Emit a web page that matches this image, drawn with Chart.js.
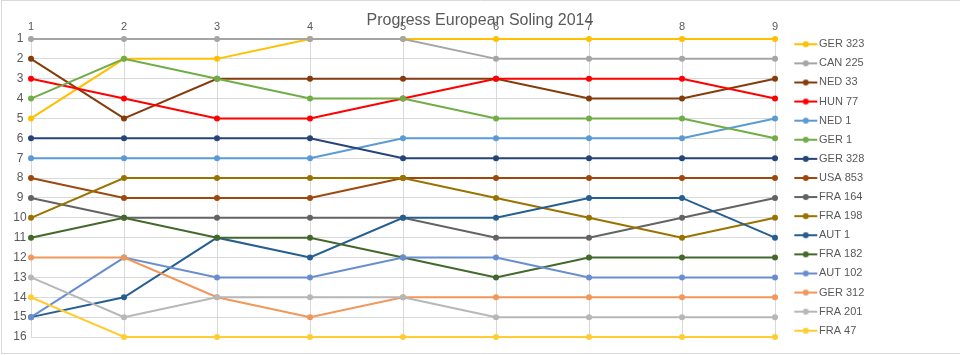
<!DOCTYPE html>
<html><head><meta charset="utf-8">
<script src="https://cdn.jsdelivr.net/npm/chart.js@4/dist/chart.umd.min.js"></script>
<style>html,body{margin:0;padding:0;background:#fff}canvas{display:block}</style>
</head><body>
<canvas id="c" width="960" height="355"></canvas>
<script>
// ---- data ----
const chartTitle = 'Progress European Soling 2014';
const races = ['1','2','3','4','5','6','7','8','9'];
const teams = ['GER 323','CAN 225','NED 33','HUN 77','NED 1','GER 1','GER 328','USA 853','FRA 164','FRA 198','AUT 1','FRA 182','AUT 102','GER 312','FRA 201','FRA 47'];
const ger323 = [5,2,2,1,1,1,1,1,1];
const can225 = [1,1,1,1,1,2,2,2,2];
const ned33  = [2,5,3,3,3,3,4,4,3];
const hun77  = [3,4,5,5,4,3,3,3,4];
const ned1   = [7,7,7,7,6,6,6,6,5];
const ger1   = [4,2,3,4,4,5,5,5,6];
const ger328 = [6,6,6,6,7,7,7,7,7];
const usa853 = [8,9,9,9,8,8,8,8,8];
const fra164 = [9,10,10,10,10,11,11,10,9];
const fra198 = [10,8,8,8,8,9,10,11,10];
const aut1   = [15,14,11,12,10,10,9,9,11];
const fra182 = [11,10,11,11,12,13,12,12,12];
const aut102 = [15,12,13,13,12,12,13,13,13];
const ger312 = [12,12,14,15,14,14,14,14,14];
const fra201 = [13,15,14,14,14,15,15,15,15];
const fra47  = [14,16,16,16,16,16,16,16,16];
const positions = [ger323,can225,ned33,hun77,ned1,ger1,ger328,usa853,fra164,fra198,aut1,fra182,aut102,ger312,fra201,fra47];
const rankMin = 1, rankMax = 16;

// ---- styles ----
const colors = ['#FFC000','#A5A5A5','#843C0C','#FF0000','#5B9BD5','#70AD47','#264478','#9E480E','#636363','#997300','#255E91','#43682B','#698ED0','#F1975A','#B7B7B7','#FFCD33'];
const FONT = "'Liberation Sans', Arial, sans-serif";
const TEXT = '#595959';
const GRID = '#D9D9D9';

function legendIcon(color){
  const cv = document.createElement('canvas');
  cv.width = 44; cv.height = 10;
  const g = cv.getContext('2d');
  g.strokeStyle = color; g.lineWidth = 2;
  g.beginPath(); g.moveTo(18,5); g.lineTo(41,5); g.stroke();
  g.fillStyle = color;
  g.beginPath(); g.arc(29.5,5,3,0,Math.PI*2); g.fill();
  return cv;
}

const datasets = teams.map((t,i)=>({
  label: t,
  data: positions[i],
  borderColor: colors[i],
  backgroundColor: colors[i],
  pointBackgroundColor: colors[i],
  pointBorderColor: colors[i],
  borderWidth: 2,
  pointRadius: 3,
  pointBorderWidth: 0,
  pointHoverRadius: 3,
  tension: 0,
  clip: false,
  order: -i
}));

const fixLegend = {
  id: 'fixLegend',
  afterInit(chart){
    const lg = chart.legend;
    const f = lg.fit;
    lg.fit = function(){ f.call(this); this.width = 185; };
  }
};
const frame = {
  id: 'frame',
  beforeDraw(chart){
    const c = chart.ctx;
    c.save();
    c.fillStyle = '#fff'; c.fillRect(0,0,chart.width,chart.height);
    c.strokeStyle = GRID; c.lineWidth = 1;
    c.beginPath();
    c.moveTo(1,0.5); c.lineTo(960,0.5);
    c.moveTo(1.5,0); c.lineTo(1.5,353.5);
    c.moveTo(1,353.5); c.lineTo(960,353.5);
    c.stroke();
    c.restore();
  },
  afterDraw(chart){
    const c = chart.ctx;
    c.save();
    c.fillStyle = TEXT;
    c.font = '16px ' + FONT;
    c.textAlign = 'center';
    c.textBaseline = 'alphabetic';
    c.fillText(chartTitle, 480, 25);
    c.restore();
  }
};

new Chart(document.getElementById('c'), {
  type: 'line',
  data: { labels: races, datasets },
  plugins: [fixLegend, frame],
  options: {
    responsive: false,
    animation: false,
    events: [],
    layout: { padding: { top: 20, left: 0, right: 0, bottom: 0 } },
    plugins: {
      tooltip: { enabled: false },
      title: { display: false },
      legend: {
        display: true,
        position: 'right',
        align: 'center',
        fullSize: true,
        labels: {
          usePointStyle: true,
          pointStyleWidth: 30.4,
          padding: 8.1,
          color: TEXT,
          font: { family: FONT, size: 11 },
          generateLabels: chart => chart.data.datasets.map((ds,i)=>({
            text: ds.label,
            fillStyle: ds.borderColor,
            strokeStyle: ds.borderColor,
            lineWidth: 0,
            pointStyle: legendIcon(ds.borderColor),
            hidden: false,
            datasetIndex: i,
            fontColor: TEXT
          }))
        }
      }
    },
    scales: {
      x: {
        type: 'category',
        position: 'top',
        offset: false,
        grid: { color: GRID, drawTicks: false, lineWidth: 1 },
        border: { display: false },
        ticks: { color: TEXT, font: { family: FONT, size: 11 }, padding: 5.4, maxRotation: 0, autoSkip: false },
        afterFit: s => { s.height = 19; }
      },
      xb: {
        type: 'category',
        position: 'bottom',
        grid: { display: false, drawTicks: false },
        border: { display: false },
        ticks: { display: false },
        afterFit: s => { s.height = 18; }
      },
      y: {
        type: 'linear',
        reverse: true,
        min: rankMin,
        max: rankMax,
        grid: { color: GRID, drawTicks: false, lineWidth: 1 },
        border: { display: false },
        ticks: { stepSize: 1, color: TEXT, font: { family: FONT, size: 12 }, padding: 4.3, crossAlign: 'center' },
        afterFit: s => { s.width = 31; }
      }
    }
  }
});
</script>
</body></html>
